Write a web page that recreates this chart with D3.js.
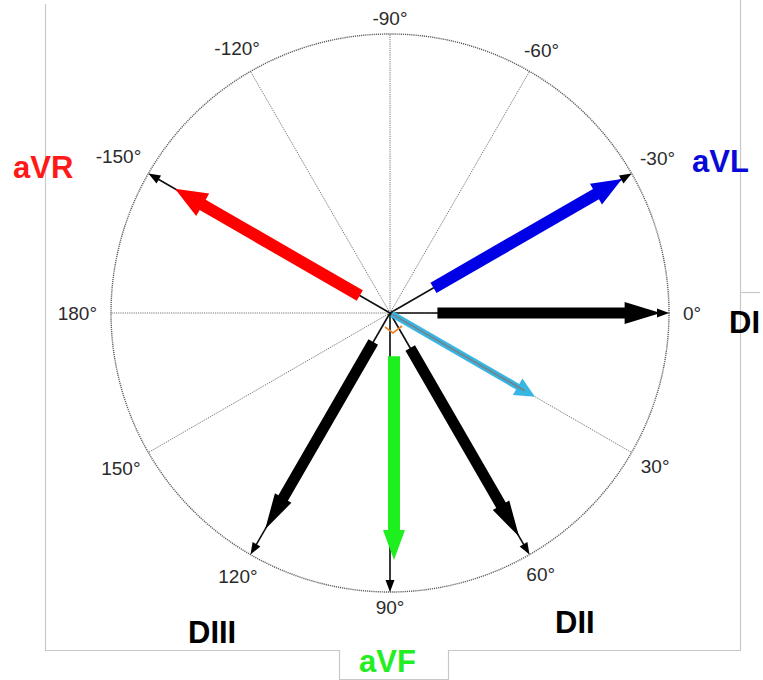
<!DOCTYPE html>
<html>
<head>
<meta charset="utf-8">
<script src="https://cdn.jsdelivr.net/npm/d3@7"></script>
<style>
  html, body { margin: 0; padding: 0; background: #fff; }
  svg { display: block; }
  text { font-family: "Liberation Sans", Arial, sans-serif; }
</style>
</head>
<body>
<svg id="chart" width="763" height="680"></svg>
<script>
// ---- data ----
const tickAngles = [-90, -120, -60, -150, -30, 180, 0, 150, 30, 120, 60, 90];
const tickLabels = ["-90°", "-120°", "-60°", "-150°", "-30°", "180°", "0°", "150°", "30°", "120°", "60°", "90°"];
const spokeAngles = [0, 30, 60, 90, 120, 150, 180, 210, 240, 270, 300, 330];

const leads = ["aVR", "aVL", "DI", "DII", "aVF", "DIII"];
const leadAngles = [-150, -30, 0, 60, 90, 120];
const leadStart = [0.125, 0.18, 0.17, 0.145, 0.155, 0.12];   // fraction of radius
const leadEnd = [0.89, 0.96, 0.97, 0.925, 0.885, 0.895];     // fraction of radius
const leadColors = ["#ff0000", "#0000e6", "#000000", "#000000", "#1eef1e", "#000000"];
const labelColors = ["#ff1a1a", "#0a0ad8", "#000000", "#000000", "#22ee22", "#000000"];

const axisAngle = [30];      // resulting electrical axis
const axisLength = [0.6];

// ---- layout ----
const svg = d3.select("#chart");
const cx = 390, cy = 313, R = 279;
const rScale = d3.scaleLinear().domain([0, 1]).range([0, R]);
const aScale = d3.scaleLinear().domain([0, 360]).range([0, 2 * Math.PI]);
const pt = (deg, r) => [cx + r * Math.cos(aScale(deg)), cy + r * Math.sin(aScale(deg))];

// frame
svg.append("path")
  .attr("d", "M45.5,4 V650.5 H339.5 V679.5 H448.5 V650.5 H740.5 V0")
  .attr("fill", "none").attr("stroke", "#c8c8c8").attr("stroke-width", 1.2);
svg.append("path").attr("d", "M740.5,292.5 H760")
  .attr("fill", "none").attr("stroke", "#c8c8c8").attr("stroke-width", 1.2);

const g = svg.append("g");

// spokes
g.selectAll("line.spoke").data(spokeAngles).join("line")
  .attr("class", "spoke")
  .attr("x1", cx).attr("y1", cy)
  .attr("x2", d => pt(d, R)[0]).attr("y2", d => pt(d, R)[1])
  .attr("stroke", "#777").attr("stroke-width", 1).attr("stroke-dasharray", "1.2,1");

// circle
g.append("circle").attr("cx", cx).attr("cy", cy).attr("r", R)
  .attr("fill", "none").attr("stroke", "#5e5e5e").attr("stroke-width", 1.4)
  .attr("stroke-dasharray", "1.2,0.9");

// tick labels
const lab = g.selectAll("text.tick").data(tickAngles).join("text")
  .attr("class", "tick")
  .attr("font-size", 19).attr("fill", "#2b2b2b")
  .attr("text-anchor", "middle").attr("dominant-baseline", "central")
  .text((d, i) => tickLabels[i]);
lab.each(function(d) {
  const bb = this.getBBox();
  const a = aScale(d);
  const r = R + 14 + Math.abs(Math.cos(a)) * bb.width / 2 + Math.abs(Math.sin(a)) * 1.5;
  const p = pt(d, r);
  d3.select(this).attr("x", p[0]).attr("y", p[1]);
});

// thin arrows to circle
const thinHead = d3.line()([[0, 0], [-12, -4.5], [-12, 4.5]]) + "Z";
leadAngles.forEach(a => {
  const p = pt(a, R);
  g.append("line").attr("x1", cx).attr("y1", cy).attr("x2", pt(a, R - 8)[0]).attr("y2", pt(a, R - 8)[1])
    .attr("stroke", "#111").attr("stroke-width", 1.6);
  g.append("path").attr("d", thinHead)
    .attr("transform", `translate(${p[0]},${p[1]}) rotate(${a})`)
    .attr("fill", "#000");
});

// thick arrow polygon along +x, from s to e
function arrowPath(s, e, w, hw, hl) {
  const b = e - hl;
  return d3.line()([[s, -w / 2], [b, -w / 2], [b, -hw / 2], [e, 0], [b, hw / 2], [b, w / 2], [s, w / 2]]) + "Z";
}
const shaftW = { aVR: 12, aVL: 12, DI: 11, DII: 11, aVF: 12, DIII: 11 };
const headW = { aVR: 26, aVL: 24, DI: 22, DII: 19, aVF: 22, DIII: 19 };
const headL = { aVR: 32, aVL: 30, DI: 36, DII: 36, aVF: 30, DIII: 36 };
const lateral = { aVR: 0, aVL: 0, DI: 0, DII: 0, aVF: -4, DIII: 0 };

leads.forEach((name, i) => {
  g.append("path")
    .attr("d", arrowPath(rScale(leadStart[i]), rScale(leadEnd[i]), shaftW[name], headW[name], headL[name]))
    .attr("transform", `translate(${cx},${cy}) rotate(${leadAngles[i]}) translate(0,${lateral[name]})`)
    .attr("fill", leadColors[i]);
});

// resulting axis (light blue)
axisAngle.forEach((a, i) => {
  g.append("path")
    .attr("d", arrowPath(2, rScale(axisLength[i]), 6.5, 19, 20))
    .attr("transform", `translate(${cx},${cy}) rotate(${a})`)
    .attr("fill", "#38b6e2");
  g.append("line")
    .attr("x1", pt(a, 3)[0]).attr("y1", pt(a, 3)[1])
    .attr("x2", pt(a, rScale(axisLength[i]) - 12)[0]).attr("y2", pt(a, rScale(axisLength[i]) - 12)[1])
    .attr("stroke", "#6f8794").attr("stroke-width", 2);
});

// small orange angle mark
g.append("path")
  .attr("d", d3.line()([[cx - 5, cy + 14], [cx + 3, cy + 20], [cx + 12, cy + 13]]))
  .attr("fill", "none").attr("stroke", "#e8822a").attr("stroke-width", 1.6);

// lead labels
const leadLabelPos = { aVR: [13, 178], aVL: [692, 172], DI: [729, 333], DII: [555, 633], aVF: [359, 672], DIII: [188, 643] };
leads.forEach((name, i) => {
  svg.append("text")
    .attr("x", leadLabelPos[name][0]).attr("y", leadLabelPos[name][1])
    .attr("font-size", 31).attr("font-weight", "bold")
    .attr("fill", labelColors[i])
    .text(name);
});
</script>
</body>
</html>
